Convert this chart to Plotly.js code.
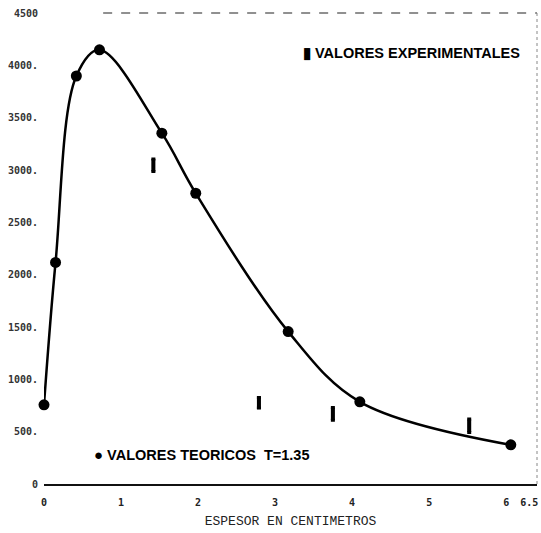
<!DOCTYPE html>
<html>
<head>
<meta charset="utf-8">
<script src="https://cdn.plot.ly/plotly-3.0.1.min.js"></script>
<style>html,body{margin:0;padding:0;background:#fff;}#chart{width:541px;height:533px;}</style>
</head>
<body>
<div id="chart"></div>
<script>
// Theoretical values (circles joined by a smooth curve)
const xTheo = [0, 0.15, 0.42, 0.72, 1.53, 1.97, 3.17, 4.10, 6.06];
const yTheo = [757, 2117, 3898, 4148, 3352, 2778, 1456, 785, 374];
// Experimental values (vertical bars)
const xExp = [1.42, 2.79, 3.75, 5.52];
const yExp = [3046, 776, 670, 556];
const errExp = [60, 50, 60, 65];
// Tick labels
const xTickVals = [0, 1, 2, 3, 4, 5, 6, 6.3];
const xTickText = ["0", "1", "2", "3", "4", "5", "6", "6.5"];
const yTickVals = [0, 500, 1000, 1500, 2000, 2500, 3000, 3500, 4000, 4500];
const yTickText = ["0", "500.", "1000.", "1500.", "2000.", "2500.", "3000.", "3500.", "4000.", "4500"];

const traces = [
  {
    x: xTheo, y: yTheo, mode: 'lines', type: 'scatter',
    line: {shape: 'spline', smoothing: 1, color: '#000', width: 2.5},
    showlegend: false, hoverinfo: 'skip', cliponaxis: false
  },
  {
    x: xTheo, y: yTheo, mode: 'markers', type: 'scatter',
    marker: {symbol: 'circle', size: 11, color: '#000'},
    showlegend: false, cliponaxis: false
  },
  {
    x: xExp, y: yExp, mode: 'markers', type: 'scatter',
    marker: {symbol: 'line-ns-open', size: 9, color: '#000', line: {color: '#000', width: 4}},
    error_y: {type: 'data', array: errExp, visible: true, color: '#000', thickness: 3, width: 2},
    showlegend: false
  }
];

const layout = {
  width: 541, height: 533,
  margin: {l: 44, r: 4, t: 13, b: 49},
  paper_bgcolor: '#fff', plot_bgcolor: '#fff',
  showlegend: false,
  xaxis: {
    range: [0, 6.4], showgrid: false, zeroline: false,
    showline: true, linecolor: '#111', linewidth: 1.5,
    tickmode: 'array', tickvals: xTickVals, ticktext: xTickText,
    ticks: '', ticklabelstandoff: 8,
    tickfont: {family: 'DejaVu Sans Mono', size: 10, color: '#222', weight: 'bold'},
    title: {text: 'ESPESOR EN CENTIMETROS', standoff: 9,
            font: {family: 'Liberation Mono', size: 13, color: '#222'}}
  },
  yaxis: {
    range: [0, 4500], showgrid: false, zeroline: false, showline: false,
    tickmode: 'array', tickvals: yTickVals, ticktext: yTickText,
    ticks: '', ticklabelstandoff: 5,
    tickfont: {family: 'DejaVu Sans Mono', size: 10, color: '#333', weight: 'bold'}
  },
  shapes: [
    {type: 'line', xref: 'paper', yref: 'paper', x0: 0.12, x1: 1, y0: 1, y1: 1,
     line: {color: '#222', width: 1.2, dash: 'dash'}},
    {type: 'line', xref: 'paper', yref: 'paper', x0: 1, x1: 1, y0: 0, y1: 1,
     line: {color: '#888', width: 1, dash: 'dot'}}
  ],
  annotations: [
    {xref: 'paper', yref: 'paper', x: 0.522, y: 0.917, xanchor: 'left', yanchor: 'middle',
     showarrow: false,
     text: '<span style="font-size:15px">▮</span> VALORES EXPERIMENTALES',
     font: {family: 'Liberation Sans', size: 14.5, color: '#000', weight: 'bold'}},
    {xref: 'paper', yref: 'paper', x: 0.097, y: 0.062, xanchor: 'left', yanchor: 'middle',
     showarrow: false,
     text: '<span style="font-size:15px">●</span> VALORES TEORICOS  T=1.35',
     font: {family: 'Liberation Sans', size: 14.5, color: '#000', weight: 'bold'}}
  ]
};

Plotly.newPlot('chart', traces, layout, {displayModeBar: false, staticPlot: true});
</script>
</body>
</html>
